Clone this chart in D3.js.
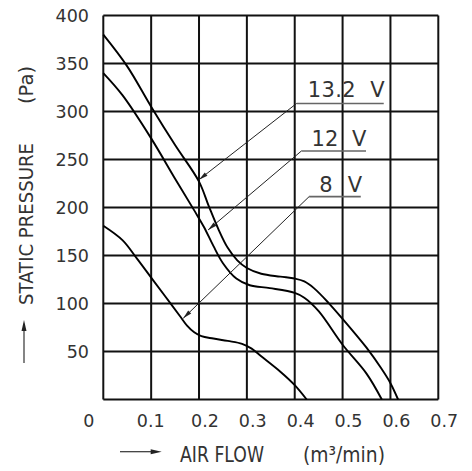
<!DOCTYPE html>
<html>
<head>
<meta charset="utf-8">
<script src="https://cdn.jsdelivr.net/npm/d3@7"></script>
<style>
html,body{margin:0;padding:0;background:#fff;}
svg{display:block;}
text{font-family:"DejaVu Sans",sans-serif;fill:#333;}
</style>
</head>
<body>
<svg id="chart" width="472" height="471"></svg>
<script>
// ---- data ----
const xTicks = [0, 0.1, 0.2, 0.3, 0.4, 0.5, 0.6, 0.7];
const xTickLabels = ["0", "0.1", "0.2", "0.3", "0.4", "0.5", "0.6", "0.7"];
const yTicks = [0, 50, 100, 150, 200, 250, 300, 350, 400];
const yTickLabels = ["", "50", "100", "150", "200", "250", "300", "350", "400"];

const series132 = [[0,380],[0.05,347],[0.1,305],[0.15,265],[0.2,227],[0.22,202],[0.24,178],[0.26,158],[0.28,145],[0.3,137],[0.33,131],[0.37,128],[0.4,126],[0.42,123],[0.44,116],[0.47,101],[0.5,84],[0.55,54],[0.58,33],[0.6,17],[0.616,0]];
const series12 = [[0,340],[0.04,317],[0.1,272],[0.15,230],[0.19,197],[0.21,180],[0.23,160],[0.25,142],[0.278,126],[0.306,119],[0.348,116],[0.4,111],[0.42,106],[0.45,92],[0.5,57],[0.55,27],[0.582,0]];
const series8 = [[0,181],[0.04,166],[0.07,147],[0.1,127],[0.13,107],[0.16,87],[0.175,77],[0.19,70],[0.205,66],[0.23,63.5],[0.26,61],[0.29,58],[0.31,53],[0.33,45],[0.37,29],[0.4,15],[0.425,0]];

const seriesLabels = ["13.2  V", "12  V", "8  V"];
// annotation anchors in data units: arrow tip, underline start/end, text start & baseline
const annTip = [[0.2,229],[0.219,176.6],[0.167,84.6]];
const annLineStart = [[0.404,308.4],[0.414,258.9],[0.430,211.3]];
const annLineEnd = [0.586, 0.549, 0.538];
const annText = [[0.427,314.8],[0.435,264],[0.451,216.5]];
const annTextLen = [77, 55, 43];

// ---- layout ----
const svg = d3.select("#chart");
const x = d3.scaleLinear().domain([0, 0.7]).range([103.3, 438.3]);
const y = d3.scaleLinear().domain([0, 400]).range([399.5, 15.5]);

// grid
svg.append("g").selectAll("line").data(xTicks).join("line")
  .attr("x1", d => x(d)).attr("x2", d => x(d))
  .attr("y1", y(0)).attr("y2", y(400))
  .attr("stroke", "#111").attr("stroke-width", 2);
svg.append("g").selectAll("line").data(yTicks).join("line")
  .attr("x1", x(0)).attr("x2", x(0.7))
  .attr("y1", d => y(d)).attr("y2", d => y(d))
  .attr("stroke", "#111").attr("stroke-width", 2);

// tick labels
const xLabelDx = d => d === 0 ? -20 : (Math.abs(d - 0.1) < 1e-9 ? -14.4 : -8);
svg.append("g").selectAll("text").data(xTicks).join("text")
  .attr("x", d => x(d) + xLabelDx(d)).attr("y", 421)
  .attr("dominant-baseline", "central")
  .attr("font-size", 17.5)
  .text((d, i) => xTickLabels[i]);
svg.append("g").selectAll("text").data(yTicks).join("text")
  .attr("x", 89).attr("y", d => y(d))
  .attr("text-anchor", "end")
  .attr("dominant-baseline", "central")
  .attr("font-size", 17.5)
  .text((d, i) => yTickLabels[i]);

// curves
const line = d3.line().x(d => x(d[0])).y(d => y(d[1])).curve(d3.curveCatmullRom.alpha(0.5));
[series132, series12, series8].forEach(s => {
  svg.append("path").datum(s).attr("d", line)
    .attr("fill", "none").attr("stroke", "#000").attr("stroke-width", 1.9);
});

// arrowhead helper
function arrowHead(g, x1, y1, x2, y2, len, hw) {
  const a = Math.atan2(y2 - y1, x2 - x1);
  const bx = x2 - len * Math.cos(a), by = y2 - len * Math.sin(a);
  const px = -Math.sin(a) * hw, py = Math.cos(a) * hw;
  g.append("path")
    .attr("d", `M${x2},${y2}L${bx + px},${by + py}L${bx - px},${by - py}Z`)
    .attr("fill", "#222");
}

// annotations
const ann = svg.append("g");
seriesLabels.forEach((lab, i) => {
  const sx = x(annLineStart[i][0]), sy = y(annLineStart[i][1]);
  const tx = x(annTip[i][0]), ty = y(annTip[i][1]);
  ann.append("line").attr("x1", sx).attr("y1", sy).attr("x2", x(annLineEnd[i])).attr("y2", sy)
    .attr("stroke", "#666").attr("stroke-width", 1.6);
  ann.append("line").attr("x1", sx).attr("y1", sy).attr("x2", tx).attr("y2", ty)
    .attr("stroke", "#222").attr("stroke-width", 1);
  arrowHead(ann, sx, sy, tx, ty, 9, 2.2);
  ann.append("text").attr("x", x(annText[i][0])).attr("y", y(annText[i][1]))
    .attr("font-size", 21)
    .attr("textLength", annTextLen[i]).attr("lengthAdjust", "spacing")
    .style("white-space", "pre")
    .text(lab);
});

// axis titles
const yt = svg.append("g");
yt.append("text").attr("transform", "translate(33,305) rotate(-90)")
  .attr("font-size", 20).attr("textLength", 162).attr("lengthAdjust", "spacingAndGlyphs")
  .text("STATIC PRESSURE");
yt.append("text").attr("transform", "translate(33,104) rotate(-90)")
  .attr("font-size", 20).attr("textLength", 38).attr("lengthAdjust", "spacingAndGlyphs")
  .text("(Pa)");
yt.append("line").attr("x1", 24).attr("y1", 363).attr("x2", 24).attr("y2", 330)
  .attr("stroke", "#333").attr("stroke-width", 1.2);
arrowHead(yt, 24, 363, 24, 320, 11, 2.5);

const xt = svg.append("g");
xt.append("line").attr("x1", 120).attr("y1", 451.7).attr("x2", 152).attr("y2", 451.7)
  .attr("stroke", "#333").attr("stroke-width", 1.2);
arrowHead(xt, 120, 451.7, 161.7, 451.7, 11, 2.5);
xt.append("text").attr("x", 180).attr("y", 461.5)
  .attr("font-size", 22).attr("textLength", 84).attr("lengthAdjust", "spacingAndGlyphs")
  .text("AIR FLOW");
xt.append("text").attr("x", 303).attr("y", 461.5)
  .attr("font-size", 21).attr("textLength", 82).attr("lengthAdjust", "spacingAndGlyphs")
  .text("(m³/min)");
</script>
</body>
</html>
